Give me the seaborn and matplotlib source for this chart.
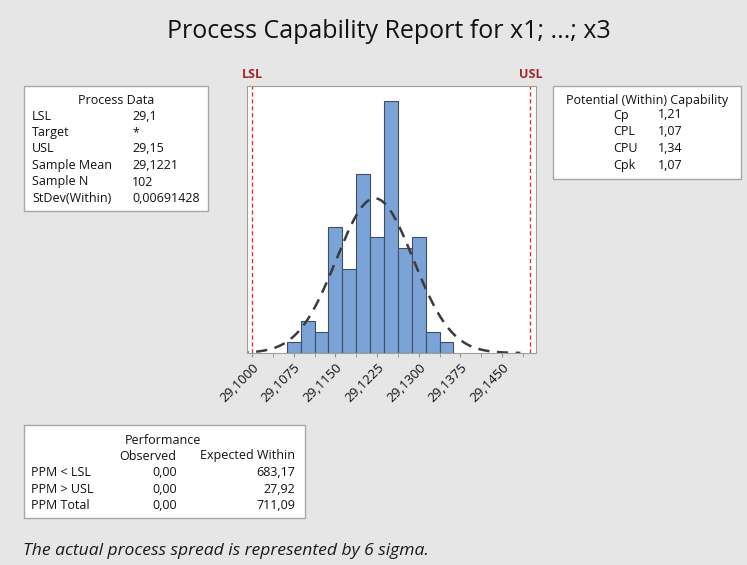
import numpy as np
import pandas as pd
import seaborn as sns
import matplotlib.pyplot as plt
from matplotlib.patches import Rectangle

# histogram data
bin_edges = [29.10625, 29.10875, 29.11125, 29.11375, 29.11625, 29.11875, 29.12125,
             29.12375, 29.12625, 29.12875, 29.13125, 29.13375, 29.13625]
counts = [1, 3, 2, 12, 8, 17, 11, 24, 10, 11, 2, 1]

lsl = 29.1
usl = 29.15
mean = 29.1221
sd_within = 0.00691428
n = 102

tick_vals = [29.1, 29.1075, 29.115, 29.1225, 29.13, 29.1375, 29.145]
tick_labels = ['29,1000', '29,1075', '29,1150', '29,1225', '29,1300', '29,1375', '29,1450']

process_labels = ['LSL', 'Target', 'USL', 'Sample Mean', 'Sample N', 'StDev(Within)']
process_values = ['29,1', '*', '29,15', '29,1221', '102', '0,00691428']

cap_labels = ['Cp', 'CPL', 'CPU', 'Cpk']
cap_values = ['1,21', '1,07', '1,34', '1,07']

perf_labels = ['PPM < LSL', 'PPM > USL', 'PPM Total']
perf_observed = ['0,00', '0,00', '0,00']
perf_expected = ['683,17', '27,92', '711,09']

sns.set_style('white')
plt.rcParams['font.family'] = ['Open Sans', 'DejaVu Sans']

W, H = 747, 565
BG = '#E6E6E6'
fig = plt.figure(figsize=(W / 100, H / 100), dpi=100, facecolor=BG)


def fx(x):
    return x / W


def fy(y):
    return 1 - y / H


def txt(x, y, s, **kw):
    kw.setdefault('fontsize', 9)
    kw.setdefault('color', '#111111')
    kw.setdefault('va', 'center')
    fig.text(fx(x), fy(y), s, **kw)


def box(x0, y0, x1, y1):
    fig.patches.append(Rectangle((fx(x0), fy(y1)), fx(x1) - fx(x0), fy(y0) - fy(y1),
                                 transform=fig.transFigure, facecolor='white',
                                 edgecolor='#A8A8A8', linewidth=1))


# main axes
ax = fig.add_axes([fx(247), fy(353), fx(536) - fx(247), fy(86) - fy(353)])
centers = [(bin_edges[i] + bin_edges[i + 1]) / 2 for i in range(len(counts))]
df = pd.DataFrame({'x': centers, 'count': counts})
sns.histplot(data=df, x='x', weights='count', bins=bin_edges, ax=ax,
             color='#7BA3D8', edgecolor='#3F5064', linewidth=0.8, alpha=1)

# fitted normal curve (within)
xs = np.linspace(29.094, 29.1483, 300)
ys = n * 0.0025 * np.exp(-0.5 * ((xs - mean) / sd_within) ** 2) / (sd_within * np.sqrt(2 * np.pi))
sns.lineplot(x=xs, y=ys, ax=ax, color='#3C3C3C', linewidth=1.8, linestyle=(0, (4.5, 3)))

for v in (lsl, usl):
    ax.axvline(v, color='#E0303A', linewidth=1, linestyle=(0, (3, 2)))

ax.set_xlim(29.0991, 29.1511)
ax.set_ylim(0, 25.4)
ax.set_yticks([])
ax.set_xlabel('')
ax.set_ylabel('')
ax.set_xticks(tick_vals)
ax.set_xticklabels(tick_labels, rotation=45, ha='right', rotation_mode='anchor',
                   fontsize=9.5, color='#111111')
ax.set_xticks([v + 0.00375 for v in tick_vals], minor=True)
ax.tick_params(axis='x', which='both', direction='out', length=3, color='#909090',
               bottom=True, pad=3)
for s in ax.spines.values():
    s.set_color('#A0A0A0')
    s.set_linewidth(0.8)

txt(252, 74, 'LSL', ha='center', color='#A3282C', fontweight='bold', fontsize=9)
txt(531, 74, 'USL', ha='center', color='#A3282C', fontweight='bold', fontsize=9)

# title
txt(389, 32, 'Process Capability Report for x1; ...; x3', ha='center', fontsize=18,
    color='#111111')

# process data box
box(24, 86, 208, 211)
txt(116, 100, 'Process Data', ha='center')
for i, (l, v) in enumerate(zip(process_labels, process_values)):
    y = 116 + i * 16.5
    txt(32, y, l)
    txt(132, y, v)

# capability box
box(553, 86, 741, 179)
txt(647, 100, 'Potential (Within) Capability', ha='center')
for i, (l, v) in enumerate(zip(cap_labels, cap_values)):
    y = 115 + i * 16.7
    txt(613, y, l)
    txt(658, y, v)

# performance box
box(24, 425, 305, 518)
txt(163, 440, 'Performance', ha='center')
txt(148, 456, 'Observed', ha='center')
txt(295, 456, 'Expected Within', ha='right')
for i, (l, o, e) in enumerate(zip(perf_labels, perf_observed, perf_expected)):
    y = 473 + i * 16.3
    txt(31, y, l)
    txt(177, y, o, ha='right')
    txt(295, y, e, ha='right')

txt(23, 551, 'The actual process spread is represented by 6 sigma.', fontsize=12.6,
    style='italic', color='#1a1a1a')

fig.savefig('out.png', dpi=100, facecolor=BG)
